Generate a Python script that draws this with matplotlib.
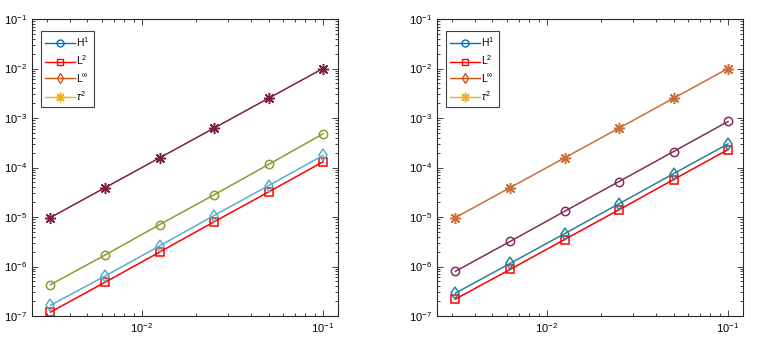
import matplotlib
matplotlib.use("Agg")
import matplotlib.pyplot as plt
import numpy as np
from matplotlib.ticker import NullFormatter, FixedLocator

plt.rcParams['font.family'] = ['Liberation Sans', 'DejaVu Sans']
plt.rcParams['mathtext.fontset'] = 'custom'
plt.rcParams['mathtext.rm'] = 'Liberation Sans'
plt.rcParams['mathtext.it'] = 'Liberation Sans:italic'

# mesh sizes
h = [0.1, 0.05, 0.025, 0.0125, 0.00625, 0.003125]

# left panel errors
h1_left = [4.8e-4, 1.15e-4, 2.8e-5, 7.0e-6, 1.7e-6, 4.3e-7]
l2_left = [1.3e-4, 3.2e-5, 8.0e-6, 1.95e-6, 4.8e-7, 1.2e-7]
linf_left = [1.75e-4, 4.3e-5, 1.07e-5, 2.6e-6, 6.4e-7, 1.65e-7]

# right panel errors
h1_right = [8.5e-4, 2.1e-4, 5.2e-5, 1.3e-5, 3.2e-6, 8.0e-7]
l2_right = [2.3e-4, 5.7e-5, 1.4e-5, 3.5e-6, 8.7e-7, 2.2e-7]
linf_right = [3.0e-4, 7.5e-5, 1.85e-5, 4.6e-6, 1.15e-6, 2.9e-7]

# reference slope tau^2
tau2 = [0.01, 0.0025, 6.25e-4, 1.5625e-4, 3.90625e-5, 9.765625e-6]

labels = [r'H$^1$', r'L$^2$', r'L$^\infty$', r'$\tau^2$']

star = (8, 2, 0)  # asterisk like matlab '*'
xlim = (0.00247, 0.121)
ylim = (1e-7, 1e-1)

fig = plt.figure(figsize=(7.62, 3.46), dpi=100)
W, H = 762, 346
ax1 = fig.add_axes([32 / W, 1 - 316 / H, 306 / W, 297 / H])
ax2 = fig.add_axes([437 / W, 1 - 316 / H, 306 / W, 297 / H])

# ticks only inside the view
xminor = [m * 10.0 ** e for e in (-3, -2, -1) for m in range(2, 10)]
xminor = [v for v in xminor if xlim[0] <= v <= xlim[1]]
ymajor = [10.0 ** e for e in range(-7, 0)]
yminor = [m * 10.0 ** e for e in range(-7, -1) for m in range(2, 10)]


def draw(ax, h1, l2, linf, colors):
    ax.loglog(h, h1, '-o', color=colors[0], mfc='none', ms=6, lw=1.1, mew=1.1)
    ax.loglog(h, l2, '-s', color=colors[1], mfc='none', ms=5.5, lw=1.1, mew=1.1)
    ax.loglog(h, linf, '-d', color=colors[2], mfc='none', ms=6.5, lw=1.1, mew=1.1)
    ax.loglog(h, tau2, '-', marker=star, color=colors[3], ms=8, lw=1.1, mew=1.1)
    ax.set_xlim(*xlim)
    ax.set_ylim(*ylim)
    ax.xaxis.set_major_locator(FixedLocator([1e-2, 1e-1]))
    ax.xaxis.set_minor_locator(FixedLocator(xminor))
    ax.xaxis.set_minor_formatter(NullFormatter())
    ax.yaxis.set_major_locator(FixedLocator(ymajor))
    ax.yaxis.set_minor_locator(FixedLocator(yminor))
    ax.yaxis.set_minor_formatter(NullFormatter())
    ax.tick_params(which='both', direction='in', top=True, right=True,
                   labelsize=8, color='#262626', width=0.6)
    ax.tick_params(which='major', length=4)
    ax.tick_params(which='minor', length=2)
    for s in ax.spines.values():
        s.set_color('#262626')
        s.set_linewidth(0.8)
    # legend with standard colours
    proxies = [
        plt.Line2D([], [], color='#0072BD', marker='o', mfc='none', lw=1, ms=5),
        plt.Line2D([], [], color='#FF0000', marker='s', mfc='none', lw=1, ms=4.5),
        plt.Line2D([], [], color='#D95319', marker='d', mfc='none', lw=1, ms=5.5),
        plt.Line2D([], [], color='#EDB120', marker=star, lw=1, ms=7),
    ]
    leg = ax.legend(proxies, labels, loc='upper left', bbox_to_anchor=(0.03, 0.96),
                    fontsize=7.5, fancybox=False, framealpha=1, handlelength=2.8,
                    borderpad=0.4, labelspacing=0.45, handletextpad=0.15,
                    borderaxespad=0)
    leg.get_frame().set_edgecolor('#404040')
    leg.get_frame().set_linewidth(0.8)


draw(ax1, h1_left, l2_left, linf_left, ['#8C9A2E', '#FF0000', '#5BAFC8', '#7E1E44'])
draw(ax2, h1_right, l2_right, linf_right, ['#7E2F5E', '#FF0000', '#2A8199', '#C8703A'])

fig.savefig('out.png', dpi=100)
